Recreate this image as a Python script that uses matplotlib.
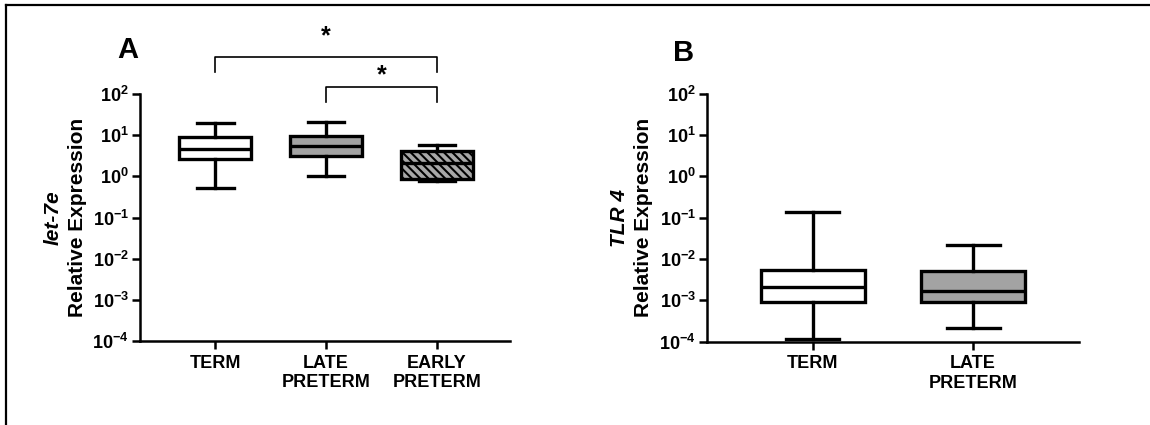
import matplotlib
matplotlib.use("Agg")
import matplotlib.pyplot as plt
from matplotlib.lines import Line2D
import matplotlib.ticker as mticker
import matplotlib.transforms as mtrans

plt.rcParams['font.family'] = ['Liberation Sans', 'DejaVu Sans']
plt.rcParams['hatch.linewidth'] = 1.5
plt.rcParams['hatch.color'] = '#3a3a3a'

# ---------------- data ----------------
cats_a = ["TERM", "LATE\nPRETERM", "EARLY\nPRETERM"]
a_whislo = [0.51, 1.0, 0.77]
a_q1 = [2.7, 3.2, 0.87]
a_med = [4.6, 5.6, 2.1]
a_q3 = [9.2, 9.6, 4.2]
a_whishi = [19.5, 20.6, 5.8]

cats_b = ["TERM", "LATE\nPRETERM"]
b_whislo = [0.000112, 0.00021]
b_q1 = [0.00089, 0.00089]
b_med = [0.00203, 0.00171]
b_q3 = [0.0053, 0.0050]
b_whishi = [0.134, 0.0213]

sig_pairs_a = [(0, 2), (1, 2)]
sig_text_a = ["*", "*"]

ylabel_gene_a = "let-7e"
ylabel_gene_b = "TLR 4"
ylabel_common = "Relative Expression"

# ---------------- styles ----------------
fills_a = ["white", "#a3a3a3", "#a8a8a8"]
hatches_a = [None, None, "\\\\\\\\"]
fills_b = ["white", "#a3a3a3"]
hatches_b = [None, None]

fig = plt.figure(figsize=(11.5, 4.25), dpi=100)

ax_a = fig.add_axes([140/1150, 1-341/425, 370/1150, 247/425])
ax_b = fig.add_axes([707/1150, 1-341.5/425, 372/1150, 248/425])


def draw_panel(ax, cats, lo, q1, med, q3, hi, fills, hatches, xlim):
    stats = []
    for i in range(len(cats)):
        stats.append(dict(whislo=lo[i], q1=q1[i], med=med[i], q3=q3[i],
                          whishi=hi[i], fliers=[], label=cats[i]))
    lw = 2.4
    bp = ax.bxp(stats, positions=list(range(len(cats))), widths=0.65,
                patch_artist=True, showfliers=False,
                boxprops=dict(linewidth=lw, edgecolor='black'),
                medianprops=dict(linewidth=lw, color='black'),
                whiskerprops=dict(linewidth=lw, color='black'),
                capprops=dict(linewidth=lw, color='black'),
                capwidths=0.33)
    for patch, fc, h in zip(bp['boxes'], fills, hatches):
        patch.set_facecolor(fc)
        if h:
            patch.set_hatch(h)
    ax.set_yscale('log')
    ax.set_ylim(1e-4, 1e2)
    ax.set_xlim(*xlim)
    ax.yaxis.set_major_locator(mticker.LogLocator(base=10, numticks=10))
    ax.yaxis.set_minor_locator(mticker.NullLocator())
    ax.spines['top'].set_visible(False)
    ax.spines['right'].set_visible(False)
    for s in ('left', 'bottom'):
        ax.spines[s].set_linewidth(1.8)
    ax.tick_params(axis='both', direction='out', width=1.8, length=6,
                   labelsize=13)
    ax.tick_params(axis='y', pad=2)
    ax.tick_params(axis='x', pad=4, labelsize=13)
    ax.set_xticks(list(range(len(cats))))
    ax.set_xticklabels(cats, fontweight='bold')
    ax.set_facecolor('none')


draw_panel(ax_a, cats_a, a_whislo, a_q1, a_med, a_q3, a_whishi,
           fills_a, hatches_a, (-0.68, 2.66))
draw_panel(ax_b, cats_b, b_whislo, b_q1, b_med, b_q3, b_whishi,
           fills_b, hatches_b, (-0.66, 1.66))

for ax in (ax_a, ax_b):
    for t in ax.get_yticklabels():
        t.set_fontweight('bold')

# y labels (two lines: italic gene name, then common label)
for ax, gene in ((ax_a, ylabel_gene_a), (ax_b, ylabel_gene_b)):
    ax.text(-0.235, 0.5, gene, transform=ax.transAxes, rotation=90,
            ha='center', va='center', fontsize=15, fontweight='bold',
            fontstyle='italic')
    ax.text(-0.170, 0.5, ylabel_common, transform=ax.transAxes, rotation=90,
            ha='center', va='center', fontsize=15, fontweight='bold')

# panel letters
fig.text(128/1150, 1-50/425, "A", ha='center', va='center', fontsize=21,
         fontweight='bold')
fig.text(684/1150, 1-53/425, "B", ha='center', va='center', fontsize=21,
         fontweight='bold')

# significance brackets (x in data, y in axes fraction)
trans = mtrans.blended_transform_factory(ax_a.transData, ax_a.transAxes)
bracket_levels = [(1.150, 1.089, 1.232), (1.028, 0.968, 1.074)]
for (i, j), txt, (ytop, yleg, ystar) in zip(sig_pairs_a, sig_text_a, bracket_levels):
    ax_a.plot([i, i, j, j], [yleg, ytop, ytop, yleg], color='black', lw=1.2,
              transform=trans, clip_on=False)
    ax_a.text((i + j) / 2, ystar, txt, transform=trans, ha='center',
              va='center', fontsize=18, fontweight='bold')

# outer frame (top and left edges)
fig.add_artist(Line2D([6/1150, 1.0], [1-5/425, 1-5/425], color='black', lw=1.6,
                      transform=fig.transFigure))
fig.add_artist(Line2D([6/1150, 6/1150], [0.0, 1-5/425], color='black', lw=1.6,
                      transform=fig.transFigure))

fig.savefig("out.png", dpi=100)
